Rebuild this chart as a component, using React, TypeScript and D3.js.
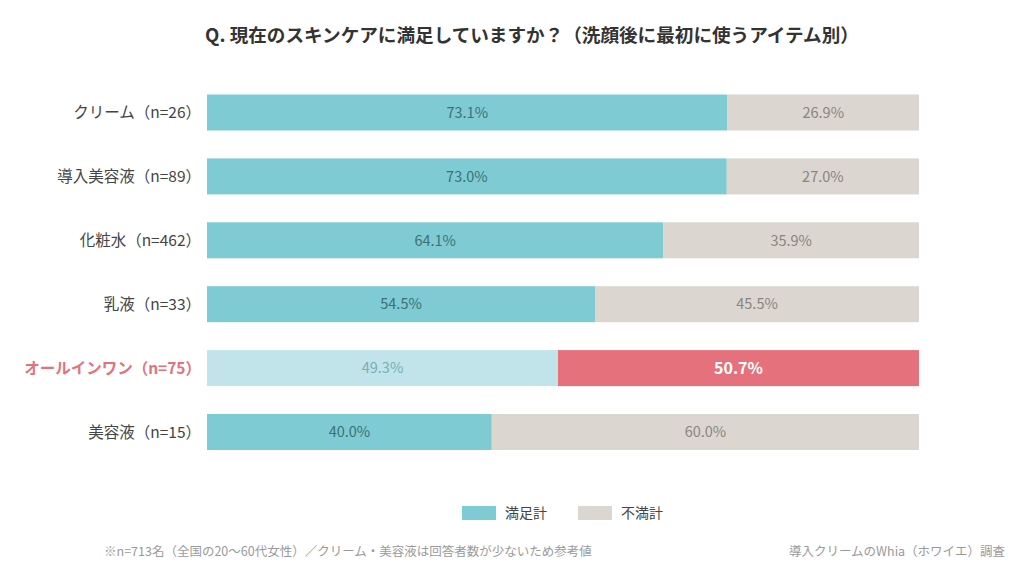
import React from "react";
import * as d3 from "d3";

const categories = ["クリーム", "導入美容液", "化粧水", "乳液", "オールインワン", "美容液"];
const sampleSizes = [26, 89, 462, 33, 75, 15];
const satisfied = [73.1, 73.0, 64.1, 54.5, 49.3, 40.0];
const dissatisfied = [26.9, 27.0, 35.9, 45.5, 50.7, 60.0];
const highlightIndex = 4;
const seriesNames = ["満足計", "不満計"];
const title = "Q. 現在のスキンケアに満足していますか？（洗顔後に最初に使うアイテム別）";
const noteLeft = "※n=713名（全国の20〜60代女性）／クリーム・美容液は回答者数が少ないため参考値";
const noteRight = "導入クリームのWhia（ホワイエ）調査";

const W = 1024;
const H = 584;
const FONT = "'Noto Sans CJK JP', 'Noto Sans', sans-serif";

const C = {
  teal: "#7ECBD3",
  gray: "#DBD6D0",
  lightTeal: "#C0E4E9",
  red: "#E5717D",
  tealText: "#3D7077",
  grayText: "#8A8580",
  lightTealText: "#79AEB4",
  label: "#444444",
  title: "#333333",
  note: "#9A9A9A",
};

export default function App() {
  const x = d3.scaleLinear().domain([0, 100]).range([207, 919]);
  const y = d3
    .scaleBand<string>()
    .domain(categories)
    .range([94.5, 450])
    .paddingInner(0.4366)
    .paddingOuter(0);
  const bh = y.bandwidth();
  const fmt = (v: number) => `${v.toFixed(1)}%`;

  return (
    <svg
      width={W}
      height={H}
      viewBox={`0 0 ${W} ${H}`}
      style={{ position: "absolute", left: 0, top: 0, background: "#fff" }}
      fontFamily={FONT}
    >
      <rect width={W} height={H} fill="#fff" />
      <text x={532} y={42} textAnchor="middle" fontSize={18.6} fontWeight={700} fill={C.title}>
        {title}
      </text>

      {categories.map((cat, i) => {
        const y0 = y(cat) as number;
        const hl = i === highlightIndex;
        const s = satisfied[i];
        const d = dissatisfied[i];
        const cy = y0 + bh / 2;
        return (
          <g key={cat}>
            <text
              x={201}
              y={cy}
              dy="0.36em"
              textAnchor="end"
              fontSize={15.5}
              fontWeight={hl ? 700 : 400}
              fill={hl ? C.red : C.label}
            >
              {`${cat}（n=${sampleSizes[i]}）`}
            </text>
            <rect x={x(0)} y={y0} width={x(s) - x(0)} height={bh} fill={hl ? C.lightTeal : C.teal} />
            <rect x={x(s)} y={y0} width={x(s + d) - x(s)} height={bh} fill={hl ? C.red : C.gray} />
            <text
              x={(x(0) + x(s)) / 2}
              y={cy}
              dy="0.36em"
              textAnchor="middle"
              fontSize={14.5}
              fill={hl ? C.lightTealText : C.tealText}
            >
              {fmt(s)}
            </text>
            <text
              x={(x(s) + x(s + d)) / 2}
              y={cy}
              dy="0.36em"
              textAnchor="middle"
              fontSize={hl ? 16 : 14.5}
              fontWeight={hl ? 700 : 400}
              fill={hl ? "#ffffff" : C.grayText}
            >
              {fmt(d)}
            </text>
          </g>
        );
      })}

      <g>
        <rect x={462} y={506} width={34} height={14} fill={C.teal} />
        <text x={505} y={513} dy="0.36em" fontSize={14} fill={C.label}>
          {seriesNames[0]}
        </text>
        <rect x={578} y={506} width={34} height={14} fill={C.gray} />
        <text x={621} y={513} dy="0.36em" fontSize={14} fill={C.label}>
          {seriesNames[1]}
        </text>
      </g>

      <text x={104} y={551} dy="0.36em" fontSize={12.5} fill={C.note}>
        {noteLeft}
      </text>
      <text x={1005} y={551} dy="0.36em" textAnchor="end" fontSize={12.5} fill={C.note}>
        {noteRight}
      </text>
    </svg>
  );
}
